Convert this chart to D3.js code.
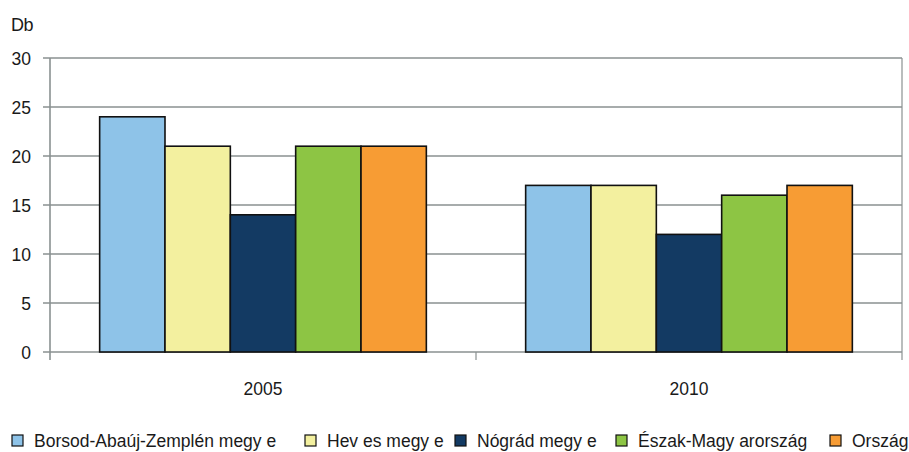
<!DOCTYPE html>
<html>
<head>
<meta charset="utf-8">
<script src="https://cdn.jsdelivr.net/npm/d3@7"></script>
<style>
  body { margin: 0; background: #fff; }
  text { font-family: "Liberation Sans", Arial, sans-serif; fill: #1a1a1a; }
</style>
</head>
<body>
<svg id="chart" width="909" height="452"></svg>
<script>
const years = ["2005", "2010"];
const seriesNames = ["Borsod-Abaúj-Zemplén megy e", "Hev es megy e", "Nógrád megy e", "Észak-Magy arország", "Ország"];
const seriesColors = ["#8ec3e8", "#f3f09f", "#133a63", "#8dc544", "#f79c34"];
const values2005 = [24, 21, 14, 21, 21];
const values2010 = [17, 17, 12, 16, 17];
const yTicks = [0, 5, 10, 15, 20, 25, 30];
const legendX = [12, 305, 455, 616, 830];

const data = years.map((yr, i) => ({
  year: yr,
  vals: (i === 0 ? values2005 : values2010).map((v, j) => ({ name: seriesNames[j], v: v, color: seriesColors[j] }))
}));

const svg = d3.select("#chart");
const margin = { top: 58, right: 7, bottom: 100, left: 50 };
const width = 909 - margin.left - margin.right,
  height = 452 - margin.top - margin.bottom;

const x = d3.scaleBand().domain(years).range([margin.left, margin.left + width]).paddingInner(0).paddingOuter(0);
const xi = d3.scaleBand().domain(seriesNames).range([0, x.bandwidth()]).paddingInner(0).paddingOuter(0.76);
const y = d3.scaleLinear().domain([0, 30]).range([margin.top + height, margin.top]);

// grid
svg.append("g")
  .selectAll("line")
  .data(yTicks)
  .join("line")
  .attr("x1", margin.left - 7)
  .attr("x2", margin.left + width)
  .attr("y1", d => y(d))
  .attr("y2", d => y(d))
  .attr("stroke", "#8a9191")
  .attr("stroke-width", 1.6);

// left and right verticals
svg.append("line")
  .attr("x1", margin.left).attr("x2", margin.left)
  .attr("y1", margin.top).attr("y2", margin.top + height + 8)
  .attr("stroke", "#8a9191").attr("stroke-width", 1.6);
svg.append("line")
  .attr("x1", margin.left + width).attr("x2", margin.left + width)
  .attr("y1", margin.top).attr("y2", margin.top + height + 8)
  .attr("stroke", "#8a9191").attr("stroke-width", 1.2);
// category separator tick
svg.append("line")
  .attr("x1", x("2010")).attr("x2", x("2010"))
  .attr("y1", margin.top + height).attr("y2", margin.top + height + 8)
  .attr("stroke", "#8a9191").attr("stroke-width", 1.2);

// y labels
svg.append("g")
  .selectAll("text")
  .data(yTicks)
  .join("text")
  .attr("x", 31)
  .attr("y", d => y(d) + 6.5)
  .attr("text-anchor", "end")
  .attr("font-size", 17.5)
  .text(d => d);

svg.append("text").attr("x", 11).attr("y", 31).attr("font-size", 18).attr("letter-spacing", -0.5).text("Db");

// bars
const groups = svg.append("g")
  .selectAll("g")
  .data(data)
  .join("g")
  .attr("transform", d => `translate(${x(d.year)},0)`);

groups.selectAll("rect")
  .data(d => d.vals)
  .join("rect")
  .attr("x", d => xi(d.name))
  .attr("width", xi.bandwidth())
  .attr("y", d => y(d.v))
  .attr("height", d => y(0) - y(d.v))
  .attr("fill", d => d.color)
  .attr("stroke", "#111")
  .attr("stroke-width", 1.6);

// x labels
svg.append("g")
  .selectAll("text")
  .data(years)
  .join("text")
  .attr("x", d => x(d) + x.bandwidth() / 2)
  .attr("y", 395)
  .attr("text-anchor", "middle")
  .attr("font-size", 17.5)
  .text(d => d);

// legend
const leg = svg.append("g")
  .selectAll("g")
  .data(seriesNames)
  .join("g")
  .attr("transform", (d, i) => `translate(${legendX[i]},435)`);
leg.append("rect")
  .attr("width", 11).attr("height", 11)
  .attr("fill", (d, i) => seriesColors[i])
  .attr("stroke", "#111").attr("stroke-width", 1.2);
leg.append("text")
  .attr("x", 22).attr("y", 12)
  .attr("font-size", 17.5)
  .text(d => d);
</script>
</body>
</html>
